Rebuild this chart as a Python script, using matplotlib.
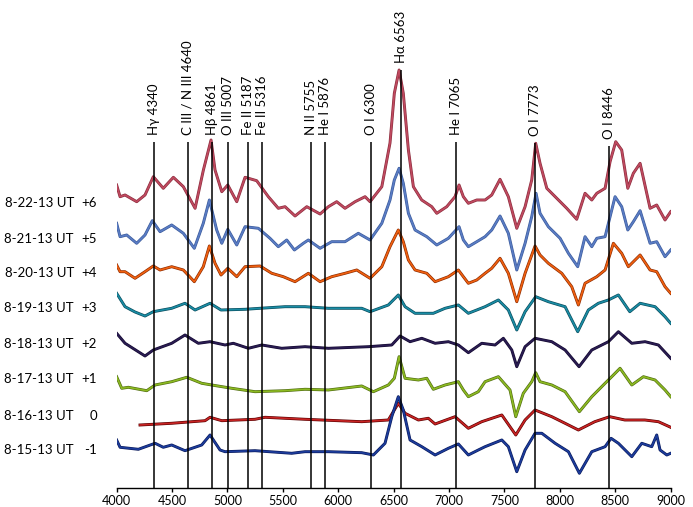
import matplotlib
matplotlib.use("Agg")
import matplotlib.pyplot as plt
import matplotlib.patheffects as pe
from matplotlib.transforms import blended_transform_factory

plt.rcParams['font.family'] = ['Lato', 'DejaVu Sans']

# spectra: wavelength (Angstrom) and relative flux (arbitrary units)
wl_p6 = [4000, 4031, 4076, 4181, 4256, 4331, 4421, 4512, 4602, 4708, 4783, 4852, 4888, 4949, 5003,
         5084, 5159, 5264, 5369, 5459, 5520, 5610, 5716, 5836, 5911, 5986, 6061, 6152, 6242, 6287,
         6393, 6467, 6506, 6549, 6587, 6633, 6678, 6753, 6844, 6889, 6979, 7054, 7090, 7129, 7174,
         7250, 7325, 7385, 7460, 7535, 7611, 7686, 7746, 7782, 7821, 7882, 7972, 8062, 8152, 8227,
         8288, 8333, 8408, 8453, 8504, 8558, 8613, 8663, 8724, 8814, 8874, 8949, 9000]
fl_p6 = [15, 3.3, 5, -1.7, 5, 23.3, 11.7, 22.7, 13.3, -8.3, 30, 60, 30, 8.3, 15,
         -1.7, 22.7, 19.3, 3.3, -8.3, -6.7, -16, -6.7, -14, -6.7, -1.7, -8.3, -1.7, 3.3, -1.7,
         13.3, 57, 106.7, 130, 106.7, 50, 13.3, 0, -6.7, -13.3, -6.7, 3.3, 15, 3.3, -3.3,
         0, 0, 5, 20.7, 3.3, -28.3, -6.7, 20, 56.7, 36.7, 11.7, 1.7, -8.3, -19.3, 6.7,
         0, 6.7, 11.7, 38.3, 58.3, 50, 11.7, 26.7, 36.7, -8.3, -5, -20, -11.7]

wl_p5 = [4000, 4031, 4091, 4181, 4256, 4322, 4392, 4497, 4602, 4701, 4782, 4837, 4903, 4949, 5003,
         5084, 5159, 5279, 5384, 5459, 5535, 5604, 5685, 5730, 5836, 5941, 6061, 6181, 6287, 6393,
         6467, 6506, 6549, 6587, 6633, 6693, 6799, 6889, 6994, 7090, 7129, 7174, 7250, 7325, 7385,
         7460, 7535, 7611, 7686, 7746, 7785, 7821, 7896, 8002, 8077, 8161, 8227, 8288, 8333, 8408,
         8498, 8558, 8613, 8663, 8724, 8814, 8874, 8949, 9000]
fl_p5 = [16.7, 3.3, 5, -3.3, 5, 19.3, 8.3, 15, 6.7, -8.3, 16.7, 40, 10, -3.3, 10.7,
         -5, 13.3, 11.7, 1.7, -6.7, 0, -10, -3.3, 0, -8.3, -1.7, -1.7, 6.7, 0, 16.7,
         40, 60, 71.7, 56.7, 26.7, 10, 3.3, -5, 1.7, 13.3, 0, -6.7, -1.7, 3.3, 10,
         24, 6.7, -30, -3.3, 23.3, 46.7, 26.7, 13.3, 1.7, -13.3, -26.7, 3.3, -6.7, 1.7, 3.3,
         43.3, 33.3, 10, 18.3, 29.3, -3.3, -1.7, -16.7, -10]

wl_p4 = [4000, 4031, 4076, 4166, 4256, 4331, 4392, 4497, 4602, 4701, 4782, 4837, 4888, 4942, 5003,
         5084, 5159, 5294, 5400, 5504, 5610, 5730, 5836, 5941, 6061, 6167, 6287, 6393, 6467, 6542,
         6587, 6633, 6693, 6799, 6874, 6994, 7084, 7129, 7174, 7250, 7325, 7385, 7460, 7535, 7611,
         7686, 7776, 7821, 7896, 8017, 8107, 8167, 8227, 8333, 8408, 8483, 8558, 8618, 8724, 8814,
         8874, 8949, 9000]
fl_p4 = [7, 0.3, 0.3, -6.3, 0.3, 6, 2, 5.3, 2, -9.7, 5.3, 26, 8.7, -3, 3.7,
         -4.7, 5.3, 6, -1.3, -4.7, -9.7, -1.3, -9.7, -4.7, -1.3, 2, -6.3, 5.3, 25.3, 42,
         30.3, 12, 2, -1.3, -9.7, -4.7, 2, -4.7, -11.3, -8, -1.3, 3.7, 13.7, -1.3, -29.7,
         -1.3, 26, 17, 8.7, -1.3, -14.7, -33, -11.3, -4.7, 2, 28.7, 18.7, 5.3, 17, 2,
         0.3, -14.7, -21.3]

wl_p3 = [4000, 4076, 4166, 4256, 4331, 4497, 4617, 4708, 4843, 4942, 5159, 5294, 5520, 5700, 5911,
         6212, 6287, 6452, 6542, 6603, 6693, 6858, 6964, 7084, 7174, 7250, 7325, 7445, 7535, 7611,
         7686, 7782, 7896, 8047, 8161, 8257, 8347, 8438, 8528, 8631, 8724, 8859, 8949, 9000]
fl_p3 = [14.7, 1.3, -4, -8, -3.7, -0.3, 4.7, -2, 4.7, -2, -1.3, -0.3, 1.3, 1.3, -0.3,
         -0.3, -3.7, 3, 13, 1.3, -5.3, -5.3, -0.3, 3, -5.3, -2, 1.3, 8, -2, -22,
         -3.7, 11.3, 6.3, 1.3, -23.7, -2, 4.7, 8, 13, -3.7, 4.7, 1.3, -8.7, -15.3]

wl_p2 = [4000, 4076, 4256, 4331, 4497, 4617, 4737, 4843, 4978, 5053, 5189, 5310, 5490, 5700, 5911,
         6272, 6483, 6558, 6648, 6754, 6874, 6994, 7084, 7174, 7295, 7415, 7490, 7566, 7611, 7686,
         7776, 7927, 8047, 8173, 8288, 8438, 8528, 8649, 8769, 8889, 9000]
fl_p2 = [11.7, 1.7, -11, -5, 1.7, 10, 1.7, 3.3, 0, 1.7, -3.3, 0, -3.3, -1.7, -3.3,
         -1.7, 0, 9, 3.3, 6.7, 1.7, 3.3, 0, -7.7, 1.7, 0, 6.7, -5, -21.7, -1.7,
         6.7, 3.3, -5, -21.7, -5, 3.3, 13.3, 1.7, 3.3, 0, -13.3]

wl_p1 = [4000, 4046, 4106, 4272, 4347, 4497, 4633, 4768, 4858, 5039, 5249, 5520, 5700, 5911, 6212,
         6317, 6452, 6506, 6549, 6603, 6723, 6799, 6858, 6964, 7084, 7129, 7174, 7264, 7325, 7445,
         7550, 7602, 7670, 7746, 7782, 7821, 7927, 8047, 8176, 8288, 8408, 8468, 8543, 8649, 8754,
         8859, 8949, 9000]
fl_p1 = [11.3, -0.3, 0.7, -2.7, 3, 6.3, 10.7, 4.7, 3, -0.3, -3.7, -2.7, -1.3, -2, 2,
         -3.7, 3, 9.7, 31.3, 9.7, 8, 9.7, -1.3, 3, 6.3, -2, -8.7, -3.7, 6.3, 11.3,
         -2, -28.7, -5.3, 6.3, 15.3, 6.3, 3, -3.7, -23.7, -8.7, 4.7, 11.3, 19.7, 3, 11.3,
         8, -2, -8.7]

wl_z0 = [4211, 4497, 4798, 4843, 4949, 5249, 5339, 5700, 6212, 6452, 6542, 6603, 6723, 6813, 6874,
         7054, 7174, 7295, 7476, 7602, 7686, 7776, 7927, 8047, 8167, 8315, 8450, 8586, 8767, 8889,
         9000]
fl_z0 = [-5, -3.3, -0.7, 2.7, -0.7, 0.7, 2.7, 0.7, -1.7, 0, 16.7, 6.7, 0, 1.7, -4,
         3.3, -8.3, -1.7, 5, -15, 0, 10, 3.3, -3.3, -10, -1.7, 3.3, 0, 0, -1.7,
         -7.3]

wl_m1 = [4000, 4031, 4196, 4347, 4421, 4497, 4617, 4768, 4843, 4933, 4978, 5249, 5580, 5700, 5911,
         6212, 6317, 6422, 6483, 6542, 6587, 6648, 6754, 6874, 6994, 7084, 7174, 7264, 7325, 7476,
         7535, 7611, 7686, 7776, 7837, 7957, 8077, 8176, 8288, 8408, 8462, 8528, 8649, 8739, 8829,
         8874, 8904, 8965, 9000]
fl_m1 = [10, 2.7, 0.7, 6.7, 2.7, 5, -0.7, 5, 15, 0, -1.7, -0.7, -3.3, -1.7, -1.7,
         -2.7, -5, 6.7, 33.3, 53.3, 40, 10, 3.3, -5, 1.7, 6, -5, 0, 3.3, 10,
         3.3, -21.7, 0, 16.7, 16.7, 6.7, -1.7, -23.3, -1.7, 3.3, 11.7, 6.7, -6.7, 6.7, 3.3,
         15, 0, -5, -3.3]

dates = ['8-22-13 UT', '8-21-13 UT', '8-20-13 UT', '8-19-13 UT',
         '8-18-13 UT', '8-17-13 UT', '8-16-13 UT', '8-15-13 UT']
days = ['+6', '+5', '+4', '+3', '+2', '+1', '0', '-1']

lines_wl = [4340, 4640, 4861, 5007, 5187, 5316, 5755, 5876, 6300, 6563, 7065, 7773, 8446]
lines_lab = ['H\u03b3 4340', 'C III / N III 4640', 'H\u03b2 4861', 'O III 5007', 'Fe II 5187',
             'Fe II 5316', 'N II 5755', 'He I 5876', 'O I 6300', 'H\u03b1 6563', 'He I 7065',
             'O I 7773', 'O I 8446']

spectra = [(wl_p6, fl_p6), (wl_p5, fl_p5), (wl_p4, fl_p4), (wl_p3, fl_p3),
           (wl_p2, fl_p2), (wl_p1, fl_p1), (wl_z0, fl_z0), (wl_m1, fl_m1)]
offsets = [307, 267, 235, 199, 162, 119, 87, 57]
label_y = [304, 268, 234, 199, 163, 128, 91, 57]
colors = ['#c04a60', '#5a7cc4', '#f06010', '#1a8ca4', '#2a1c52', '#8cba22', '#c82424', '#1c3c9c']
edges = ['#8a2c3c', '#3a5a9a', '#8a2a00', '#0a4a5a', '#140a30', '#4f6a10', '#5a0000', '#0a1a5a']

fig = plt.figure(figsize=(6.93, 5.07), dpi=100)
ax = fig.add_axes([0.1683, 0.0375, 0.7995, 0.9625])

for (wl, fl), off, c, ec in zip(spectra, offsets, colors, edges):
    ax.plot(wl, [f + off for f in fl], color=c, lw=1.2, zorder=3, solid_joinstyle='round',
            path_effects=[pe.Stroke(linewidth=2.1, foreground=ec), pe.Normal()])

# line identifications
tops = [365, 365, 365, 365, 365, 365, 365, 365, 365, 437, 365, 364, 361]
for w, lab, t in zip(lines_wl, lines_lab, tops):
    ax.vlines(w, 19, t, color='black', lw=1.1, zorder=4)
    ax.text(w, t + 7, lab, rotation=90, ha='center', va='bottom', fontsize=9.5)

tr = blended_transform_factory(fig.transFigure, ax.transData)
for d, n, y in zip(dates, days, label_y):
    ax.text(74 / 693, y, d, transform=tr, ha='right', va='center', fontsize=9.5)
    ax.text(97 / 693, y, n, transform=tr, ha='right', va='center', fontsize=9.5)

ax.set_xlim(4000, 9000)
ax.set_ylim(19, 507)
ax.set_xticks(range(4000, 9001, 500))
ax.tick_params(axis='x', length=3, width=1, labelsize=9, pad=2)
ax.set_yticks([])
for s in ['top', 'left', 'right']:
    ax.spines[s].set_visible(False)
ax.spines['bottom'].set_linewidth(1)

fig.savefig('out.png', dpi=100)
